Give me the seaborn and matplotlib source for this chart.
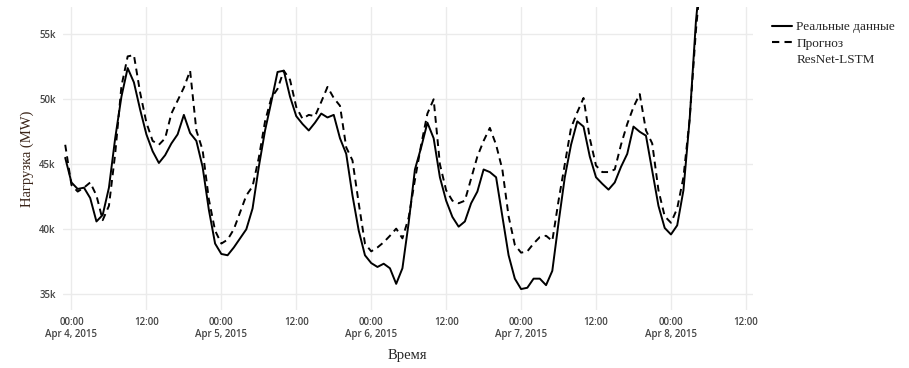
import matplotlib
matplotlib.use('Agg')
import matplotlib.pyplot as plt
import seaborn as sns
import pandas as pd

# hourly load, thousands of MW, from 2015-04-03 23:00
real_k = [45.5, 43.6, 43.1, 43.2, 42.4, 40.6, 41.1, 43.2, 47.0, 50.2,
          52.4, 51.3, 49.2, 47.3, 46.0, 45.1, 45.7, 46.6, 47.3, 48.8,
          47.4, 46.8, 44.8, 41.5, 38.9, 38.1, 38.0, 38.6, 39.3, 40.0,
          41.6, 44.8, 47.6, 49.8, 52.1, 52.2, 50.2, 48.7, 48.1, 47.6,
          48.2, 48.9, 48.6, 48.8, 47.0, 45.8, 42.6, 39.9, 38.0, 37.4,
          37.1, 37.35, 37.0, 35.8, 37.0, 40.5, 44.6, 46.3, 48.2, 47.0,
          44.0, 42.2, 40.95, 40.2, 40.6, 42.0, 42.9, 44.6, 44.4, 44.0,
          41.0, 38.0, 36.2, 35.4, 35.5, 36.2, 36.2, 35.7, 36.8, 40.5,
          44.0, 46.5, 48.3, 47.9, 45.6, 44.0, 43.5, 43.05, 43.6, 44.8,
          45.8, 47.9, 47.5, 47.2, 44.5, 41.8, 40.1, 39.6, 40.3, 43.0,
          48.5, 56.0, 61.0]
forecast_k = [46.5, 43.4, 42.9, 43.2, 43.6, 42.6, 40.7, 41.8, 45.8, 51.0,
              53.3, 53.4, 50.5, 48.2, 46.8, 46.5, 47.0, 48.9, 49.9, 50.9,
              52.2, 47.6, 46.1, 42.3, 39.9, 38.9, 39.2, 40.0, 41.3, 42.6,
              43.3, 45.5, 48.3, 50.1, 50.8, 52.2, 51.5, 49.4, 48.5, 48.8,
              48.7, 49.8, 50.95, 50.1, 49.5, 46.3, 45.3, 42.0, 38.9, 38.3,
              38.6, 39.0, 39.5, 40.05, 39.3, 40.9, 43.8, 46.5, 48.9, 50.0,
              45.0, 43.0, 42.2, 42.0, 42.2, 43.9, 45.6, 46.8, 47.8, 46.5,
              44.6, 41.0, 38.8, 38.2, 38.3, 38.9, 39.4, 39.5, 39.1, 42.2,
              45.0, 47.8, 49.0, 50.1, 47.0, 44.9, 44.4, 44.4, 44.6, 46.5,
              48.1, 49.4, 50.4, 47.6, 46.6, 43.0, 41.0, 40.5, 41.6, 44.0,
              48.5, 55.3, 60.5]
series_names = ["Реальные данные", "Прогноз ResNet-LSTM"]

times = pd.date_range("2015-04-03 23:00", periods=len(real_k), freq="h")
df = pd.concat([
    pd.DataFrame({"time": times, "load": [v * 1000 for v in real_k], "series": series_names[0]}),
    pd.DataFrame({"time": times, "load": [v * 1000 for v in forecast_k], "series": series_names[1]}),
])

sns.set_style("white")
fig = plt.figure(figsize=(9.09, 3.68), dpi=100)
ax = fig.add_axes([0.069, 0.158, 0.759, 0.823])

sns.lineplot(data=df, x="time", y="load", style="series", color="black",
             dashes={series_names[0]: "", series_names[1]: (3.5, 2.5)},
             linewidth=1.4, ax=ax, legend=False)

ax.set_ylim(33800, 57100)
ax.set_xlim(pd.Timestamp("2015-04-03 22:36"), pd.Timestamp("2015-04-08 13:05"))

yt = [35000, 40000, 45000, 50000, 55000]
ax.set_yticks(yt)
ax.set_yticklabels([f"{v // 1000}k" for v in yt])

xt = pd.date_range("2015-04-04 00:00", "2015-04-08 12:00", freq="12h")
ax.set_xticks(xt)
ax.set_xticklabels([t.strftime("00:00\n%b %-d, %Y") if t.hour == 0 else "12:00" for t in xt])

ax.grid(True, color="#ebebeb", linewidth=1)
for s in ax.spines.values():
    s.set_visible(False)
ax.tick_params(length=0, labelsize=7, labelcolor="#444444", pad=5)
for lbl in ax.get_xticklabels() + ax.get_yticklabels():
    lbl.set_family("Open Sans")
    lbl.set_fontweight("semibold")

ax.set_xlabel("Время", family="Liberation Serif", fontsize=10.5, labelpad=6)
ax.set_ylabel("Нагрузка (MW)", family="Liberation Serif", fontsize=10.5, labelpad=4,
              color="#3a2418")

# second legend line has no handle of its own
first, rest = series_names[1].split(" ", 1)
handles = [plt.Line2D([], [], color="black", lw=1.5),
           plt.Line2D([], [], color="black", lw=1.5, dashes=(3.5, 2.5)),
           plt.Line2D([], [], color="none")]
fig.legend(handles, [series_names[0], first, rest], loc="upper left",
           bbox_to_anchor=(0.836, 0.975), frameon=False, handlelength=1.55,
           handletextpad=0.3, labelspacing=0.3,
           prop={"family": "Liberation Serif", "size": 9.5})

fig.savefig("out.png", dpi=100)
plt.close(fig)
